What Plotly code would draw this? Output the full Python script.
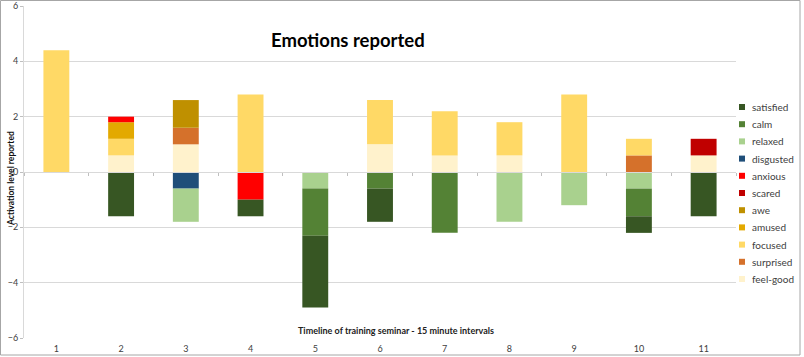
import plotly.graph_objects as go

categories = [1, 2, 3, 4, 5, 6, 7, 8, 9, 10, 11]

# series in stacking order (bottom first); legend shown reversed
feel_good = [0, 0.6, 1.0, 0, 0, 1.0, 0.6, 0.6, 0, 0, 0.6]
surprised = [0, 0, 0.6, 0, 0, 0, 0, 0, 0, 0.6, 0]
focused   = [4.4, 0.6, 0, 2.8, 0, 1.6, 1.6, 1.2, 2.8, 0.6, 0]
amused    = [0, 0.6, 0, 0, 0, 0, 0, 0, 0, 0, 0]
awe       = [0, 0, 1.0, 0, 0, 0, 0, 0, 0, 0, 0]
scared    = [0, 0, 0, 0, 0, 0, 0, 0, 0, 0, 0.6]
anxious   = [0, 0.2, 0, -1.0, 0, 0, 0, 0, 0, 0, 0]
disgusted = [0, 0, -0.6, 0, 0, 0, 0, 0, 0, 0, 0]
relaxed   = [0, 0, -1.2, 0, -0.6, 0, 0, -1.8, -1.2, -0.6, 0]
calm      = [0, 0, 0, 0, -1.7, -0.6, -2.2, 0, 0, -1.0, 0]
satisfied = [0, -1.6, 0, -0.6, -2.6, -1.2, 0, 0, 0, -0.6, -1.6]

series = [
    ("feel-good", feel_good, "#FFF2CC"),
    ("surprised", surprised, "#D5712B"),
    ("focused", focused, "#FFD966"),
    ("amused", amused, "#E3A900"),
    ("awe", awe, "#BF9000"),
    ("scared", scared, "#C00000"),
    ("anxious", anxious, "#FF0000"),
    ("disgusted", disgusted, "#1F4E79"),
    ("relaxed", relaxed, "#A9D18E"),
    ("calm", calm, "#548235"),
    ("satisfied", satisfied, "#375623"),
]

y_ticks = [-6, -4, -2, 0, 2, 4, 6]

fig = go.Figure()
for name, vals, col in series:
    fig.add_trace(go.Bar(x=categories, y=vals, name=name, marker_color=col,
                         marker_line_width=0, width=0.4, showlegend=False))

W, H = 804, 357
L, R, T, B = 24, 68, 6, 19
PW, PH = W - L - R, H - T - B


def px(xp):
    return (xp - L) / PW


def py(yp):
    return (H - B - yp) / PH


font = "Lato, 'Liberation Sans', sans-serif"
annotations = [
    dict(text="<b>Emotions reported</b>", x=px(348), y=py(40),
         xref="paper", yref="paper", xanchor="center", yanchor="middle",
         showarrow=False, font=dict(size=18.5, color="black", family=font)),
    dict(text="<b>Timeline of training seminar - 15 minute intervals</b>",
         x=px(396), y=py(330),
         xref="paper", yref="paper", xanchor="center", yanchor="middle", showarrow=False,
         font=dict(size=9, color="#222222", family=font)),
    dict(text="<b>Activation level reported</b>", x=px(11), y=py(179),
         xref="paper", yref="paper",
         textangle=-90, xanchor="center", yanchor="middle", showarrow=False,
         font=dict(size=8.5, color="#111111", family=font)),
]
shapes = []
# legend (manual, reversed order to match stacking)
for i, (name, vals, col) in enumerate(reversed(series)):
    yc = 107 + i * 17.2
    shapes.append(dict(type="rect", xref="paper", yref="paper",
                       x0=px(739), x1=px(745), y0=py(yc + 3), y1=py(yc - 3),
                       fillcolor=col, line=dict(width=0)))
    annotations.append(dict(text=name, x=px(750), y=py(yc), xref="paper", yref="paper",
                            xanchor="left", yanchor="middle", showarrow=False,
                            font=dict(size=10, color="#404040", family=font)))
# outer border
shapes.append(dict(type="rect", xref="paper", yref="paper", x0=px(0.5), x1=px(800),
                   y0=py(355), y1=py(0.5), line=dict(color="#A6A6A6", width=1)))

fig.update_layout(
    barmode="relative",
    width=W, height=H,
    margin=dict(l=L, r=R, t=T, b=B, autoexpand=False),
    plot_bgcolor="white", paper_bgcolor="white",
    font=dict(family=font, size=9, color="#595959"),
    showlegend=False,
    xaxis=dict(range=[0.5, 11.5], tickvals=categories, ticks="", showgrid=False,
               showline=False, zeroline=False, ticklabelstandoff=4,
               tickfont=dict(size=9, color="#404040")),
    xaxis2=dict(overlaying="x", anchor="free", position=0.5, range=[0.5, 11.5],
                tickvals=[i + 0.5 for i in range(0, 12)], ticks="outside", ticklen=3,
                tickcolor="#BFBFBF", showticklabels=False, showgrid=False,
                showline=True, linecolor="#D9D9D9", side="bottom"),
    yaxis=dict(range=[-6, 6], tickvals=y_ticks, showgrid=True, gridcolor="#D9D9D9",
               zeroline=False, showline=True, linecolor="#D9D9D9", ticks="outside",
               ticklen=3, tickcolor="#BFBFBF", tickfont=dict(size=9, color="#404040")),
    annotations=annotations,
    shapes=shapes,
)
# invisible trace to render xaxis2
fig.add_trace(go.Scatter(x=[1], y=[0], xaxis="x2", mode="markers", marker_opacity=0,
                         showlegend=False, hoverinfo="skip"))
fig.write_html("out.html", config={"displayModeBar": False},
               post_script="document.body.style.margin='0';")
